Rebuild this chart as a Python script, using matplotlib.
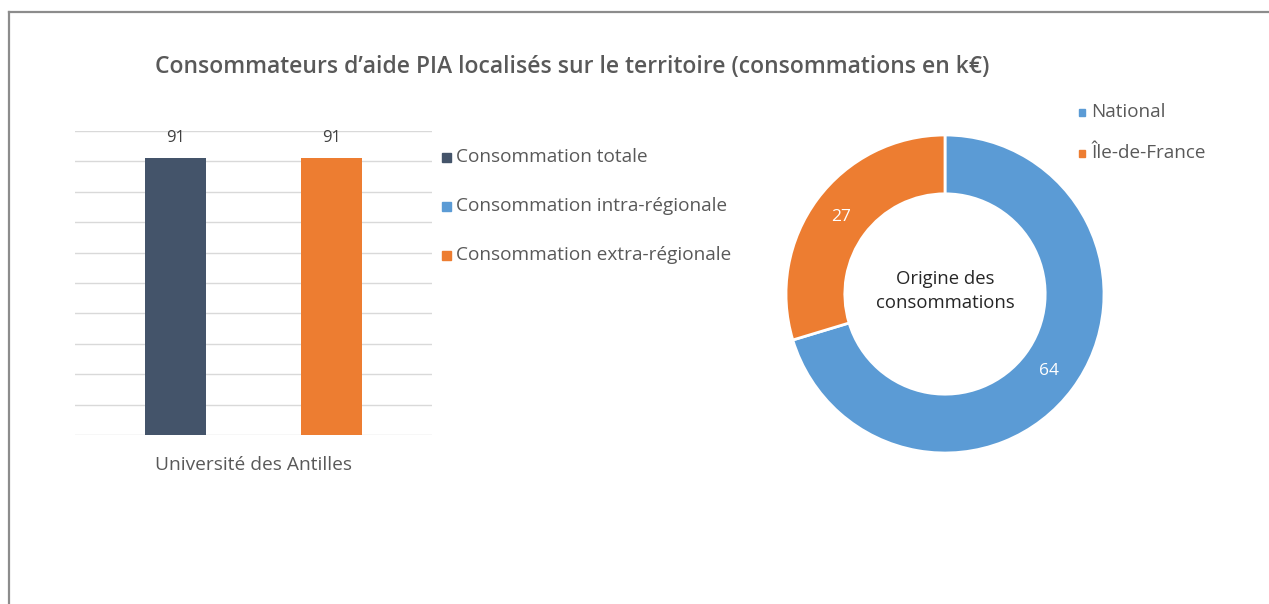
import matplotlib
matplotlib.use("Agg")
import matplotlib.pyplot as plt
from matplotlib.lines import Line2D
from matplotlib.patches import Rectangle

plt.rcParams['font.family'] = ['Open Sans', 'DejaVu Sans']

# Data
title = "Consommateurs d\u2019aide PIA localisés sur le territoire (consommations en k€)"
category = "Université des Antilles"
bar_series = ["Consommation totale", "Consommation intra-régionale", "Consommation extra-régionale"]
bar_values = [91, 0, 91]
bar_colors = ["#44546A", "#5B9BD5", "#ED7D31"]

donut_labels = ["National", "Île-de-France"]
donut_values = [64, 27]
donut_colors = ["#5B9BD5", "#ED7D31"]
donut_center = "Origine des\nconsommations"

W, H = 1269, 604
fig = plt.figure(figsize=(W / 100, H / 100), dpi=100)
fig.patch.set_facecolor("white")


def px_axes(x0, y0, x1, y1):
    """Axes from pixel box (top-left origin)."""
    return fig.add_axes([x0 / W, 1 - y1 / H, (x1 - x0) / W, (y1 - y0) / H])


# Frame lines (top and left)
fig.add_artist(Line2D([9 / W, 1], [1 - 12 / H, 1 - 12 / H], color="#8c8c8c", lw=1.6,
                      transform=fig.transFigure))
fig.add_artist(Line2D([9 / W, 9 / W], [0, 1 - 12 / H], color="#8c8c8c", lw=1.6,
                      transform=fig.transFigure))

fig.text(572 / W, 1 - 67 / H, title, ha="center", va="center", fontsize=16.5,
         color="#595959", fontweight="semibold")

# Clustered bar chart
ax = px_axes(75, 131, 432, 435)
offsets = [-0.655, 0.0, 0.655]
for off, val, col in zip(offsets, bar_values, bar_colors):
    ax.bar(off, val, width=0.52, color=col, zorder=3)
    if val > 0:
        ax.text(off, val + 6.8, f"{val}", ha="center", va="center", fontsize=12,
                color="#404040")
ax.set_xlim(-1.5, 1.5)
ax.set_ylim(0, 100)
ax.set_yticks(range(0, 101, 10))
ax.yaxis.grid(True, color="#d9d9d9", lw=1)
ax.tick_params(left=False, bottom=False, labelleft=False, labelbottom=False)
for s in ax.spines.values():
    s.set_visible(False)
ax.text(0, -10, category, ha="center", va="center", fontsize=13.8, color="#595959",
        transform=ax.transData, clip_on=False)

# Bar legend
for i, (name, col) in enumerate(zip(bar_series, bar_colors)):
    y = 157 + 49 * i
    fig.add_artist(Rectangle((442 / W, 1 - (y + 5) / H), 9 / W, 9 / H, color=col,
                             transform=fig.transFigure))
    fig.text(456 / W, 1 - y / H, name, ha="left", va="center", fontsize=13.7,
             color="#595959")

# Donut chart
R = 159
cx, cy = 945, 294
half = 175
axd = px_axes(cx - half, cy - half, cx + half, cy + half)
wedges, _, autotexts = axd.pie(
    donut_values, colors=donut_colors, startangle=90, counterclock=False,
    radius=1.0, wedgeprops=dict(width=0.37, edgecolor="white", linewidth=2),
    autopct=lambda p: f"{p * sum(donut_values) / 100:.0f}", pctdistance=0.815,
    textprops=dict(color="white", fontsize=12.5))
axd.set_xlim(-half / R, half / R)
axd.set_ylim(-half / R, half / R)
axd.set_aspect("equal")
axd.axis("off")
axd.text(0, 0.02, donut_center, ha="center", va="center", fontsize=13.3,
         color="#262626", linespacing=1.4)

# Donut legend
for i, (name, col) in enumerate(zip(donut_labels, donut_colors)):
    y = 112 + 41 * i
    fig.add_artist(Rectangle((1079 / W, 1 - (y + 3.5) / H), 6 / W, 6 / H, color=col,
                             transform=fig.transFigure))
    fig.text(1091 / W, 1 - y / H, name, ha="left", va="center", fontsize=13.6,
             color="#595959")

fig.savefig("out.png", dpi=100, facecolor="white")
